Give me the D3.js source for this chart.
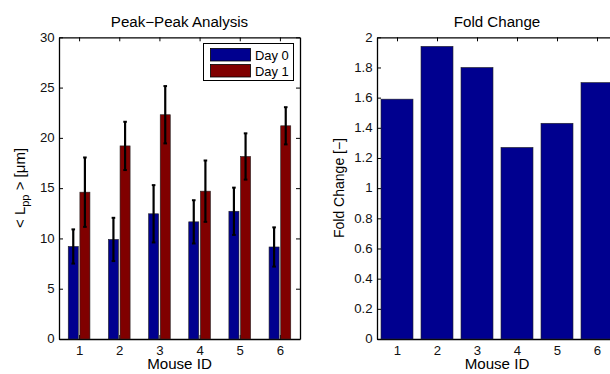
<!DOCTYPE html>
<html>
<head>
<meta charset="utf-8">
<script src="https://cdn.jsdelivr.net/npm/d3@7"></script>
<style>
	body { margin: 0; background: #fff; }
	svg { display: block; font-family: "Liberation Sans", Arial, sans-serif; }
	.tick text { font-size: 12px; fill: #111; }
</style>
</head>
<body>
<script>
//Chart data
let mouseIds = [1, 2, 3, 4, 5, 6];
let day0 = [9.2, 9.9, 12.45, 11.65, 12.7, 9.15];
let day0Err = [1.7, 2.15, 2.85, 2.15, 2.35, 1.95];
let day1 = [14.6, 19.2, 22.3, 14.7, 18.15, 21.2];
let day1Err = [3.45, 2.4, 2.85, 3.05, 2.3, 1.85];
let foldChange = [1.59, 1.94, 1.80, 1.27, 1.43, 1.70];
let leftTicks = [0, 5, 10, 15, 20, 25, 30];
let rightTicks = [0, 0.2, 0.4, 0.6, 0.8, 1, 1.2, 1.4, 1.6, 1.8, 2];
let seriesNames = ["Day 0", "Day 1"];
let seriesColors = ["#00008f", "#800000"];

window.onload = setChart();

function setChart(){

	let width = 610;
	let height = 374;
	let stretch = 1.08; //reference text is a bit wider than Liberation Sans

	let svg = d3.select("body")
		.append("svg")
		.attr("width", width)
		.attr("height", height);

	let top = 37.3, bottom = 339;

	//horizontal text, widened to match the reference
	function label(x, y, size, txt){
		return svg.append("text")
			.attr("transform", "translate(" + x + "," + y + ") scale(" + stretch + ",1)")
			.attr("text-anchor", "middle")
			.style("font-size", size + "px")
			.text(txt);
	}

	//draw a boxed matlab-style axes, return its scales
	function makeAxes(x0, x1, yMax, yTicks, title){
		let x = d3.scaleLinear().domain([0.5, 6.5]).range([x0, x1]);
		let y = d3.scaleLinear().domain([0, yMax]).range([bottom, top]);
		let g = svg.append("g");

		g.append("g")
			.attr("transform", "translate(0," + bottom + ")")
			.call(d3.axisBottom(x).tickValues(mouseIds).tickSizeInner(-4).tickSizeOuter(0).tickPadding(7)
				.tickFormat(d3.format("d")));
		g.append("g")
			.attr("transform", "translate(0," + top + ")")
			.call(d3.axisTop(x).tickValues(mouseIds).tickSizeInner(-4).tickSizeOuter(0).tickFormat(""));
		g.append("g")
			.attr("transform", "translate(" + x0 + ",0)")
			.call(d3.axisLeft(y).tickValues(yTicks).tickSizeInner(-4).tickSizeOuter(0).tickPadding(4)
				.tickFormat(d3.format("~g")));
		g.append("g")
			.attr("transform", "translate(" + x1 + ",0)")
			.call(d3.axisRight(y).tickValues(yTicks).tickSizeInner(-4).tickSizeOuter(0).tickFormat(""));

		g.selectAll(".domain").attr("stroke", "#000").attr("stroke-width", 1.3);
		g.selectAll(".tick line").attr("stroke", "#000").attr("stroke-width", 1);
		g.selectAll(".tick text").attr("transform", "scale(1.1,1)");

		label((x0 + x1) / 2, 26.5, 14, title);
		label((x0 + x1) / 2, 369, 14, "Mouse ID");

		return {x: x, y: y, g: g};
	}

	//Left panel: peak-peak analysis
	let left = makeAxes(59, 300, 30, leftTicks, "Peak\u2212Peak Analysis");
	let series = [day0, day1];
	let errs = [day0Err, day1Err];
	let offsets = [[-0.27, -0.02], [0.02, 0.27]];

	series.forEach(function(vals, s){
		let grp = svg.append("g").attr("class", "series" + s);
		grp.selectAll("rect")
			.data(vals)
			.enter()
			.append("rect")
			.attr("x", function(d, i){ return left.x(mouseIds[i] + offsets[s][0]); })
			.attr("width", function(d, i){ return left.x(mouseIds[i] + offsets[s][1]) - left.x(mouseIds[i] + offsets[s][0]); })
			.attr("y", function(d){ return left.y(d); })
			.attr("height", function(d){ return bottom - left.y(d); })
			.attr("fill", seriesColors[s])
			.attr("stroke", "#222")
			.attr("stroke-width", 0.6);

		//error bars
		vals.forEach(function(d, i){
			let cx = left.x(mouseIds[i] + (offsets[s][0] + offsets[s][1]) / 2);
			let yt = left.y(d + errs[s][i]), yb = left.y(d - errs[s][i]);
			grp.append("line")
				.attr("x1", cx).attr("x2", cx)
				.attr("y1", yt).attr("y2", yb)
				.attr("stroke", "#000").attr("stroke-width", 2.2);
			[yt, yb].forEach(function(yy){
				grp.append("line")
					.attr("x1", cx - 1.8).attr("x2", cx + 1.8)
					.attr("y1", yy).attr("y2", yy)
					.attr("stroke", "#000").attr("stroke-width", 2);
			});
		});
	});

	//legend
	let legend = svg.append("g");
	legend.append("rect")
		.attr("x", 203.5).attr("y", 43.5)
		.attr("width", 90).attr("height", 37)
		.attr("fill", "#fff").attr("stroke", "#000").attr("stroke-width", 1);
	seriesNames.forEach(function(name, i){
		legend.append("rect")
			.attr("x", 210.5).attr("y", 48.5 + i * 16)
			.attr("width", 40).attr("height", 12.5)
			.attr("fill", seriesColors[i]).attr("stroke", "#000").attr("stroke-width", 0.8);
		legend.append("text")
			.attr("transform", "translate(255," + (59.5 + i * 16) + ") scale(1.08,1)")
			.style("font-size", "12px")
			.text(name);
	});

	//y label left
	let yl = svg.append("text")
		.attr("transform", "translate(25,188) rotate(-90)")
		.attr("text-anchor", "middle")
		.style("font-size", "15px");
	yl.append("tspan").text("< L");
	yl.append("tspan").attr("dy", 4).style("font-size", "11px").text("pp");
	yl.append("tspan").attr("dy", -4).text(" > [\u03bcm]");

	//Right panel: fold change
	let right = makeAxes(377, 617, 2, rightTicks, "Fold Change");
	svg.append("g").selectAll("rect")
		.data(foldChange)
		.enter()
		.append("rect")
		.attr("x", function(d, i){ return right.x(mouseIds[i] - 0.4); })
		.attr("width", right.x(1.4) - right.x(0.6))
		.attr("y", function(d){ return right.y(d); })
		.attr("height", function(d){ return bottom - right.y(d); })
		.attr("fill", seriesColors[0])
		.attr("stroke", "#222")
		.attr("stroke-width", 0.6);

	svg.append("text")
		.attr("transform", "translate(344,188) rotate(-90)")
		.attr("text-anchor", "middle")
		.style("font-size", "14px")
		.text("Fold Change [\u2212]");
};
</script>
</body>
</html>
